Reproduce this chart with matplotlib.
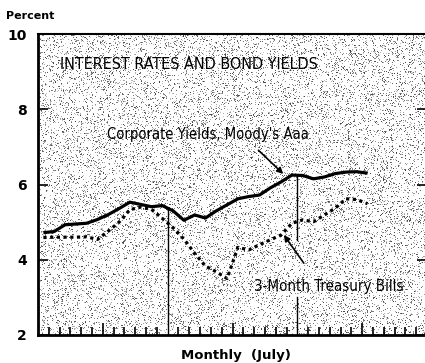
import numpy as np
import matplotlib.pyplot as plt

# monthly readings, 31 months, month index 0..30
corporate = [4.72, 4.75, 4.93, 4.95, 4.97, 5.07, 5.20, 5.36, 5.53, 5.47, 5.41,
             5.44, 5.30, 5.05, 5.19, 5.11, 5.30, 5.46, 5.62, 5.68, 5.72, 5.91,
             6.07, 6.25, 6.24, 6.15, 6.20, 6.29, 6.33, 6.34, 6.30]
tbills = [4.59, 4.60, 4.60, 4.60, 4.61, 4.54, 4.76, 5.00, 5.33, 5.40, 5.34,
          5.10, 4.85, 4.55, 4.17, 3.83, 3.68, 3.50, 4.33, 4.26, 4.40, 4.53,
          4.66, 4.97, 5.06, 5.01, 5.19, 5.37, 5.62, 5.60, 5.49]
months = np.arange(len(corporate)) + 0.5
yticks = [2, 4, 6, 8, 10]
year_marks = [12, 24]
half_year_marks = [6, 18, 30]

fig = plt.figure(figsize=(4.25, 3.63), dpi=100)
ax = fig.add_axes([38/425, 28/363, 389/425, 301/363])
ax.set_xlim(0, 36)
ax.set_ylim(2, 10)

# stippled shading of the plot area
rng = np.random.default_rng(3)
dots = rng.random((301, 389))
shade = rng.uniform(0.25, 0.8, dots.shape)
tex = np.where(dots < 0.16, shade, 1.0)
ax.imshow(tex, cmap='gray', vmin=0, vmax=1, extent=[0, 36, 2, 10],
          aspect='auto', interpolation='nearest', zorder=0)

ax.plot(months, corporate, color='black', lw=2.3, solid_capstyle='butt', zorder=3)
ax.plot(months, tbills, color='black', lw=2.3, linestyle=(0, (1, 1.1)),
        dash_capstyle='butt', zorder=3)

# year separators rising to the corporate curve
for m in year_marks:
    top = np.interp(m, months, corporate)
    if m == 24:
        # broken around the bills label
        ax.plot([m, m], [2, 3.0], color='black', lw=1, zorder=2)
        ax.plot([m, m], [4.52, top], color='black', lw=1, zorder=2)
    else:
        ax.plot([m, m], [2, top], color='black', lw=1, zorder=2)

for sp in ['left', 'bottom']:
    ax.spines[sp].set_linewidth(2)
ax.spines['top'].set_linewidth(1.5)
ax.spines['right'].set_linewidth(1.5)

ax.set_yticks(yticks)
ax.set_yticklabels([str(v) for v in yticks], fontweight='bold', fontsize=10)
ax.tick_params(axis='y', direction='in', length=7, width=1.2, right=True, pad=8)
ax.set_xticks(half_year_marks)
ax.set_xticks([k for k in range(1, 36) if k not in half_year_marks + year_marks],
              minor=True)
ax.set_xticklabels([])
ax.tick_params(axis='x', which='major', direction='in', length=9, width=1.2)
ax.tick_params(axis='x', which='minor', direction='in', length=6, width=1.2)

lab = dict(family='DejaVu Sans', stretch='condensed', va='center', ha='left')
ax.text(22/389, 0.9, 'INTEREST RATES AND BOND YIELDS', transform=ax.transAxes,
        fontsize=11.5, **lab)
ax.text(6.4, 7.33, "Corporate Yields, Moody's Aaa", fontsize=10.6, **lab)
ax.text(20.0, 3.3, '3-Month Treasury Bills', fontsize=10.85, **lab)

arrow = dict(arrowstyle='-|>', color='black', lw=1.2, shrinkA=0, shrinkB=0,
             mutation_scale=9)
ax.annotate('', xy=(22.7, 6.28), xytext=(20.4, 6.91), arrowprops=arrow)
ax.annotate('', xy=(22.75, 4.66), xytext=(24.6, 3.91), arrowprops=arrow)

fig.text(6/425, 1 - 16/363, 'Percent', fontsize=8, fontweight='bold',
         va='center', ha='left')
fig.text(236/425, 1 - 355/363, 'Monthly  (July)', fontsize=9.5, fontweight='bold',
         va='center', ha='center')

fig.savefig('out.png', dpi=100)
